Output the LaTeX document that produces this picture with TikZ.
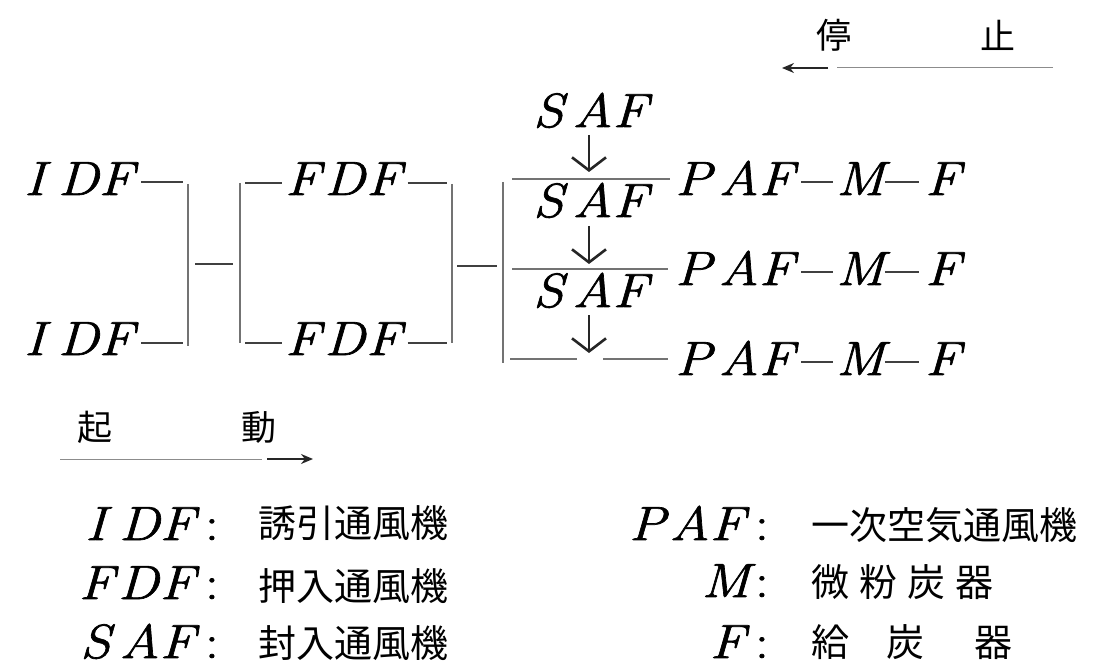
\documentclass[tikz,border=0pt]{standalone}
\usepackage{fontspec}
\newfontfamily\cjk{Noto Sans CJK JP}
\newfontfamily\lbf{Latin Modern Roman}[FakeBold=1.4,FakeStretch=1.15]
\usetikzlibrary{arrows.meta,calc}
\newcommand{\colo}{{\upshape:}}
\begin{document}
\begin{tikzpicture}[x=1pt,y=-1pt,
  lbl/.style={inner sep=0pt,font=\fontsize{48}{56}\selectfont\lbf\itshape},
  jp/.style={inner sep=0pt,font=\fontsize{38}{44}\selectfont\cjk},
  jps/.style={inner sep=0pt,font=\fontsize{35}{40}\selectfont\cjk},
  brk/.style={draw=black!55,line width=1.2pt},
  dashline/.style={draw=black!75,line width=1.6pt},
  downarr/.style={draw=black!85,line width=2pt,-{Straight Barb[length=13pt,width=34pt,line width=2.6pt]}},
  dirarr/.style={draw=black!85,line width=1.6pt,-{Stealth[length=12pt,width=10pt]}},
  guide/.style={draw=black!45,line width=1pt}]
\useasboundingbox (0,0) rectangle (1105,668);

% ---- stop arrow
\node[jps] (tei) at (834,35) {停};
\node[jps] (shi) at (998,35) {止};
\coordinate (st1) at (1053,68); \coordinate (st2) at (837,68);
\coordinate (st3) at (828,68); \coordinate (st4) at (782,68);
\draw[guide] (st1) -- (st2);
\draw[dirarr] (st3) -- (st4);

% ---- start arrow
\node[jps] (ki) at (95,427) {起};
\node[jps] (do) at (259,427) {動};
\coordinate (sa1) at (60,459); \coordinate (sa2) at (262,459);
\coordinate (sa3) at (267,459); \coordinate (sa4) at (313,459);
\draw[guide] (sa1) -- (sa2);
\draw[dirarr] (sa3) -- (sa4);

% ---- IDF
\node[lbl,anchor=base west] (idf1) at (24,195) {I\hspace{13pt}DF};
\node[lbl,anchor=base west] (idf2) at (24,355) {I\hspace{13pt}DF};
\coordinate (a1) at (183,182); \coordinate (a2) at (183,343);
\draw[dashline] ($(idf1.east |- a1)+(7,0)$) -- (a1);
\draw[dashline] ($(idf2.east |- a2)+(7,0)$) -- (a2);
\coordinate (v1t) at (188,184); \coordinate (v1b) at (188,346);
\draw[brk] (v1t) -- (v1b);
\coordinate (m1a) at (195,264); \coordinate (m1b) at (233,264);
\draw[dashline] (m1a) -- (m1b);

% ---- FDF
\coordinate (v2t) at (240,183); \coordinate (v2b) at (240,343);
\draw[brk] (v2t) -- (v2b);
\node[lbl,anchor=base west] (fdf1) at (285,195) {F\hspace{4pt}D\hspace{1pt}F};
\node[lbl,anchor=base west] (fdf2) at (285,355) {F\hspace{4pt}D\hspace{1pt}F};
\coordinate (b1) at (245,183); \coordinate (b2) at (245,343);
\draw[dashline] (b1) -- ($(fdf1.west |- b1)+(-3,0)$);
\draw[dashline] (b2) -- ($(fdf2.west |- b2)+(-3,0)$);
\coordinate (c1) at (447,183); \coordinate (c2) at (447,343);
\draw[dashline] ($(fdf1.east |- c1)+(6,0)$) -- (c1);
\draw[dashline] ($(fdf2.east |- c2)+(6,0)$) -- (c2);
\coordinate (v3t) at (452,184); \coordinate (v3b) at (452,343);
\draw[brk] (v3t) -- (v3b);
\coordinate (m2a) at (457,266); \coordinate (m2b) at (497,266);
\draw[dashline] (m2a) -- (m2b);

% ---- right bracket
\coordinate (v4t) at (503,182); \coordinate (v4b) at (503,363);
\draw[brk] (v4t) -- (v4b);

% ---- SAF
\node[lbl,anchor=base west] (saf0) at (533,127) {S\hspace{9pt}AF};
\node[lbl,anchor=base west] (saf1) at (533,217) {S\hspace{9pt}AF};
\node[lbl,anchor=base west] (saf2) at (533,307) {S\hspace{9pt}AF};

% ---- PAF rows
\foreach \i/\y in {1/195,2/285,3/375}{
  \node[lbl,anchor=base west] (paf\i) at (675,\y) {P\hspace{7pt}AF};
  \node[lbl,anchor=base west] (m\i) at (836,\y) {M};
  \node[lbl,anchor=base west] (f\i) at (925,\y) {F};
  \coordinate (ax\i) at (0,\y-13);
  \draw[dashline] ($(paf\i.east |- ax\i)+(7,0)$) -- ($(m\i.west |- ax\i)+(-3,0)$);
  \draw[dashline] ($(m\i.east |- ax\i)+(0,0)$) -- ($(f\i.west |- ax\i)+(-6,0)$);
}

% feed lines
\coordinate (l1) at (512,179); \coordinate (l2) at (512,269);
\coordinate (l3) at (510,359); \coordinate (l3a) at (577,359); \coordinate (l3b) at (603,359);
\draw[brk] (l1) -- ($(paf1.west |- l1)+(-5,0)$);
\draw[brk] (l2) -- ($(paf2.west |- l2)+(-7,0)$);
\draw[brk] (l3) -- (l3a);
\draw[brk] (l3b) -- ($(paf3.west |- l3)+(-7,0)$);

% down arrows
\coordinate (d1a) at (589,135); \coordinate (d1b) at (589,172);
\coordinate (d2a) at (589,226); \coordinate (d2b) at (589,264);
\coordinate (d3a) at (589,315); \coordinate (d3b) at (589,353);
\draw[downarr] (d1a) -- (d1b);
\draw[downarr] (d2a) -- (d2b);
\draw[downarr] (d3a) -- (d3b);

% ---- legend left
\node[lbl,anchor=base east] (k1) at (219,540) {I\hspace{13pt}DF\hspace{10pt}\colo};
\node[lbl,anchor=base east] (k2) at (219,599) {F\hspace{4pt}D\hspace{1pt}F\hspace{10pt}\colo};
\node[lbl,anchor=base east] (k3) at (219,658) {S\hspace{9pt}AF\hspace{10pt}\colo};
\node[jp,anchor=west] (t1) at (258,523) {誘引通風機};
\node[jp,anchor=west] (t2) at (258,586) {押入通風機};
\node[jp,anchor=west] (t3) at (258,643) {封入通風機};

% ---- legend right
\node[lbl,anchor=base east] (k4) at (769,540) {P\hspace{4pt}AF\hspace{10pt}\colo};
\node[lbl,anchor=base east] (k5) at (769,597) {M\hspace{5pt}\colo};
\node[lbl,anchor=base east] (k6) at (769,658) {F\hspace{10pt}\colo};
\node[jp,anchor=west] (t4) at (811,525) {一次空気通風機};
\node[jp,anchor=west] (t5) at (811,582) {微\hspace{10pt}粉\hspace{10pt}炭\hspace{10pt}器};
\node[jp,anchor=west] (t6) at (811,642) {給\hspace{37pt}炭\hspace{50pt}器};
\end{tikzpicture}
\end{document}
